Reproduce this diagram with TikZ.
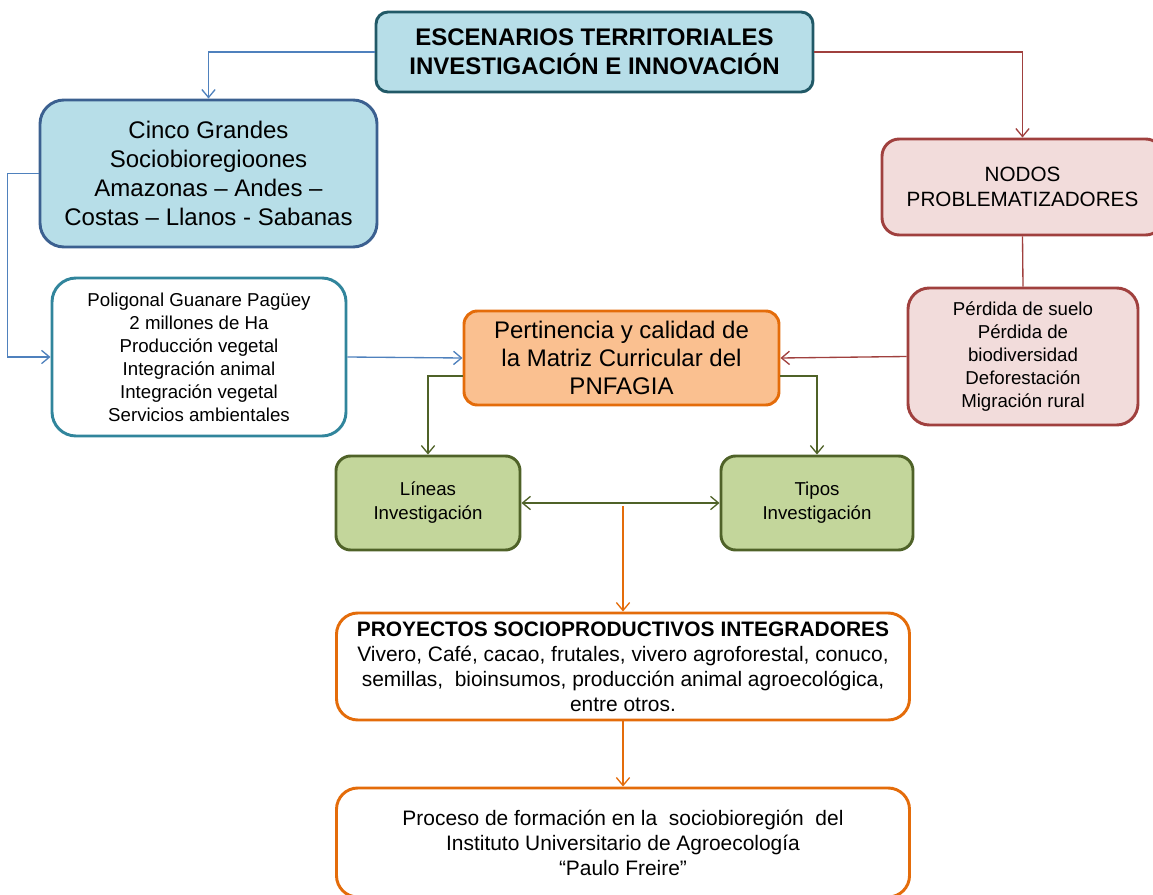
\documentclass[tikz,border=0pt]{standalone}
\usepackage{fontspec}
\setmainfont{Liberation Sans}
\usetikzlibrary{arrows.meta}

\definecolor{skyfill}{HTML}{B7DEE8}
\definecolor{tealline}{HTML}{215967}
\definecolor{blueline}{HTML}{3B6090}
\definecolor{polyline}{HTML}{31859C}
\definecolor{bluearrow}{HTML}{4F81BD}
\definecolor{rosefill}{HTML}{F2DCDB}
\definecolor{redline}{HTML}{A0403E}
\definecolor{orangefill}{HTML}{FAC090}
\definecolor{orangeline}{HTML}{E46C0A}
\definecolor{greenfill}{HTML}{C3D69B}
\definecolor{greenline}{HTML}{4F6228}

\begin{document}
\begin{tikzpicture}[x=0.75pt,y=-0.75pt,
    >={Straight Barb[length=6pt,width=10pt]},
    box/.style={draw,line width=2.2pt,align=center,inner sep=2pt},
    bluebox/.style={box,fill=skyfill},
    rosebox/.style={box,fill=rosefill,draw=redline},
    greenbox/.style={box,fill=greenfill,draw=greenline,rounded corners=11pt,
        minimum width=138pt,minimum height=70.5pt,
        font=\fontsize{14}{18}\selectfont},
    whitebox/.style={box,fill=white,draw=orangeline,rounded corners=16pt,
        minimum width=429.75pt,font=\fontsize{15.7}{18.75}\selectfont},
    link/.style={line width=1pt}]
\useasboundingbox (0,0) rectangle (1153,895);

% Top
\node[bluebox,draw=tealline,rounded corners=9pt,minimum width=327.75pt,minimum height=60pt,
    font=\fontsize{18}{21.75}\selectfont\bfseries] (title) at (594.5,52)
    {ESCENARIOS TERRITORIALES\\INVESTIGACIÓN E INNOVACIÓN};

% Left column
\node[bluebox,draw=blueline,rounded corners=18pt,minimum width=252.75pt,minimum height=110.25pt,
    font=\fontsize{18}{21.75}\selectfont] (cinco) at (208.5,173.5)
    {Cinco Grandes\\Sociobioregioones\\Amazonas -- Andes --\\Costas -- Llanos - Sabanas};
\node[box,fill=white,draw=polyline,rounded corners=18pt,minimum width=220.5pt,minimum height=118.5pt,
    font=\fontsize{14}{17.25}\selectfont] (poligonal) at (199,357)
    {Poligonal Guanare Pagüey\\2 millones de Ha\\Producción vegetal\\Integración animal\\Integración vegetal\\Servicios ambientales};

% Right column
\node[rosebox,rounded corners=13pt,minimum width=210.75pt,minimum height=72pt,
    font=\fontsize{15.5}{18.75}\selectfont] (nodos) at (1022.5,187)
    {NODOS\\PROBLEMATIZADORES};
\node[rosebox,rounded corners=16pt,minimum width=172.5pt,minimum height=102.75pt,
    font=\fontsize{14}{17.25}\selectfont] (perdida) at (1023,356.5)
    {Pérdida de suelo\\Pérdida de\\biodiversidad\\Deforestación\\Migración rural};

% Centre
\node[box,fill=orangefill,draw=orangeline,rounded corners=10pt,minimum width=236.25pt,minimum height=70.5pt,
    font=\fontsize{18}{21}\selectfont] (pertinencia) at (621.5,358)
    {Pertinencia y calidad de\\la Matriz Curricular del\\PNFAGIA};
\node[greenbox] (lineas) at (428,503) {Líneas\\Investigación};
\node[greenbox,minimum width=144pt] (tipos) at (817,503) {Tipos\\Investigación};

% Bottom
\node[whitebox,minimum height=80.25pt] (proyectos) at (623,666.5)
    {\textbf{PROYECTOS SOCIOPRODUCTIVOS INTEGRADORES}\\
     Vivero, Café, cacao, frutales, vivero agroforestal, conuco,\\
     semillas,\ \ bioinsumos, producción animal agroecológica,\\
     entre otros.};
\node[whitebox,minimum height=81.75pt] (proceso) at (623,842.5)
    {Proceso de formación en la\ \ sociobioregión\ \ del\\
     Instituto Universitario de Agroecología\\
     “Paulo Freire”};

% Arrows
\draw[link,bluearrow,->] (title.west) -| (cinco.north);
\draw[link,redline,->] (title.east) -| (nodos.north);
\draw[link,bluearrow,->] (cinco.west) -- ++(-31,0) |- (poligonal.west);
\draw[link,bluearrow,->] (poligonal.east) -- (pertinencia.west);
\draw[link,redline] (nodos.south) -- (perdida.north);
\draw[link,redline,->] (perdida.west) -- (pertinencia.east);
\draw[link,greenline,->] ([yshift=-13.5pt]pertinencia.west) -| (lineas.north);
\draw[link,greenline,->] ([yshift=-13.5pt]pertinencia.east) -| (tipos.north);
\draw[link,greenline,<->] (lineas.east) -- (tipos.west);
\coordinate (split) at (623,506);
\draw[link,orangeline,->] (split) -- (proyectos.north);
\draw[link,orangeline,->] (proyectos.south) -- (proceso.north);
\end{tikzpicture}
\end{document}
